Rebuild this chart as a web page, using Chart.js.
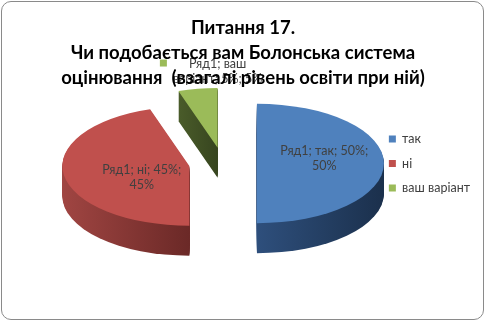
<!DOCTYPE html>
<html>
<head>
<meta charset="utf-8">
<script src="https://cdn.jsdelivr.net/npm/chart.js@4.4.0/dist/chart.umd.min.js"></script>
<style>
  html, body { margin: 0; padding: 0; background: #fff; }
  #wrap { position: relative; width: 486px; height: 323px; overflow: hidden; }
  #pie { position: absolute; left: 0; top: 0; }
  #title { position: absolute; left: 0; top: 15px; width: 486px; text-align: center;
           font: bold 18.5px Lato, sans-serif; line-height: 25px; color: #000; pointer-events: none; }
  #frame { position: absolute; left: 1px; top: 1px; width: 481px; height: 317px;
           border: 1.5px solid #8a8a8a; border-radius: 10px; pointer-events: none; }
</style>
</head>
<body>
<div id="wrap">
  <canvas id="pie" width="486" height="323"></canvas>
  <div id="title"></div>
  <div id="frame"></div>
</div>
<script>
const titleLines = ["Питання 17.", "Чи подобається вам Болонська система", "оцінювання&nbsp; (взагалі рівень освіти при ній)"];
const seriesName = "Ряд1";
const categories = ["так", "ні", "ваш варіант"];
const values = [50, 45, 5];

const topColors = ["#4f81bd", "#c0504d", "#9bbb59"];
const sideColors = [["#2e4f7c", "#1b304c"], ["#a04542", "#6b2927"], ["#4a5c2a", "#37451f"]];

document.getElementById("title").innerHTML = titleLines.join("<br>");

let total = values.reduce((s, v) => s + v, 0);

function wrapText(ctx, text, maxWidth) {
  let words = text.split(" ");
  let lines = [];
  let line = "";
  for (const w of words) {
    let test = line ? line + " " + w : w;
    if (line && ctx.measureText(test).width > maxWidth) {
      lines.push(line);
      line = w;
    } else {
      line = test;
    }
  }
  if (line) lines.push(line);
  return lines;
}

// move one slice into its place on the tilted, exploded pie
function place(ctx, a, d, o) {
  let mid = (a.startAngle + a.endAngle) / 2;
  ctx.translate(a.x, a.y + d);
  ctx.scale(1, o.tilt);
  ctx.translate(-a.x, -a.y);
  ctx.translate(Math.cos(mid) * o.explode, Math.sin(mid) * o.explode);
}

const pie3d = {
  id: "pie3d",
  beforeDatasetsDraw(chart, args, o) {
    const ctx = chart.ctx;
    const arcs = chart.getDatasetMeta(0).data;
    for (const i of o.drawOrder) {
      const a = arcs[i];
      let lo = 0, hi = 0;
      for (let t = a.startAngle; t <= a.endAngle; t += 0.02) {
        lo = Math.min(lo, Math.cos(t));
        hi = Math.max(hi, Math.cos(t));
      }
      let g = ctx.createLinearGradient(a.x + lo * a.outerRadius, 0, a.x + hi * a.outerRadius, 0);
      g.addColorStop(0, sideColors[i][0]);
      g.addColorStop(1, sideColors[i][1]);
      for (let d = o.depth; d >= 1; d--) {
        ctx.save();
        place(ctx, a, d, o);
        ctx.beginPath();
        ctx.moveTo(a.x, a.y);
        ctx.arc(a.x, a.y, a.outerRadius, a.startAngle, a.endAngle);
        ctx.closePath();
        ctx.fillStyle = g;
        ctx.fill();
        ctx.restore();
      }
      ctx.save();
      place(ctx, a, 0, o);
      a.draw(ctx);
      ctx.restore();
    }
    return false;
  },
  // datasets draw is cancelled above, so the labels go here
  afterDraw(chart, args, o) {
    const ctx = chart.ctx;
    const arcs = chart.getDatasetMeta(0).data;
    ctx.save();
    ctx.font = "12.5px Lato";
    ctx.fillStyle = "#404040";
    ctx.textAlign = "center";
    ctx.textBaseline = "middle";
    arcs.forEach((a, i) => {
      let pct = Math.round(values[i] / total * 100);
      let lines = wrapText(ctx, `${seriesName}; ${categories[i]}; ${values[i]}%; ${pct}%`, o.wrapWidth);
      let mid = (a.startAngle + a.endAngle) / 2;
      let cx = a.x + Math.cos(mid) * o.explode;
      let cy = a.y + Math.sin(mid) * o.explode * o.tilt;
      let lh = o.lineHeight;
      let x, y0;
      let at = o.labelAt[i];
      if (at) {
        let r = at[0] * a.outerRadius;
        x = cx + Math.cos(mid) * r;
        let y = cy + Math.sin(mid) * r * o.tilt + at[1];
        y0 = y - (lines.length - 1) * lh / 2;
      } else {
        x = cx + Math.cos(a.endAngle) * a.outerRadius;
        let edge = cy + Math.sin(a.endAngle) * a.outerRadius * o.tilt;
        y0 = edge - 2 - (lines.length - 1) * lh - lh / 2;
      }
      lines.forEach((l, k) => ctx.fillText(l, x, y0 + k * lh));
      if (o.withKey[i]) {
        let w = Math.max(...lines.map(l => ctx.measureText(l).width));
        ctx.fillStyle = topColors[i];
        ctx.fillRect(x - w / 2 - 13, y0 - 4, 7, 7);
        ctx.fillStyle = "#404040";
      }
    });
    ctx.restore();
  }
};

new Chart(document.getElementById("pie"), {
  type: "pie",
  data: {
    labels: categories,
    datasets: [{
      label: seriesName,
      data: values,
      backgroundColor: topColors,
      borderWidth: 0
    }]
  },
  options: {
    responsive: false,
    animation: false,
    devicePixelRatio: 1,
    radius: 127,
    layout: { padding: { left: 69, right: 6, top: 4, bottom: 0 } },
    plugins: {
      title: { display: false },
      tooltip: { enabled: false },
      legend: {
        position: "right",
        labels: {
          boxWidth: 7,
          boxHeight: 7,
          padding: 12,
          color: "#404040",
          font: { family: "Lato", size: 12.5 }
        }
      },
      pie3d: {
        tilt: 0.47,
        depth: 30,
        explode: 34,
        drawOrder: [2, 1, 0],
        labelAt: [[0.53, -5], [0.38, 8], null],
        withKey: [false, false, true],
        wrapWidth: 95,
        lineHeight: 15
      }
    }
  },
  plugins: [pie3d]
});
</script>
</body>
</html>
